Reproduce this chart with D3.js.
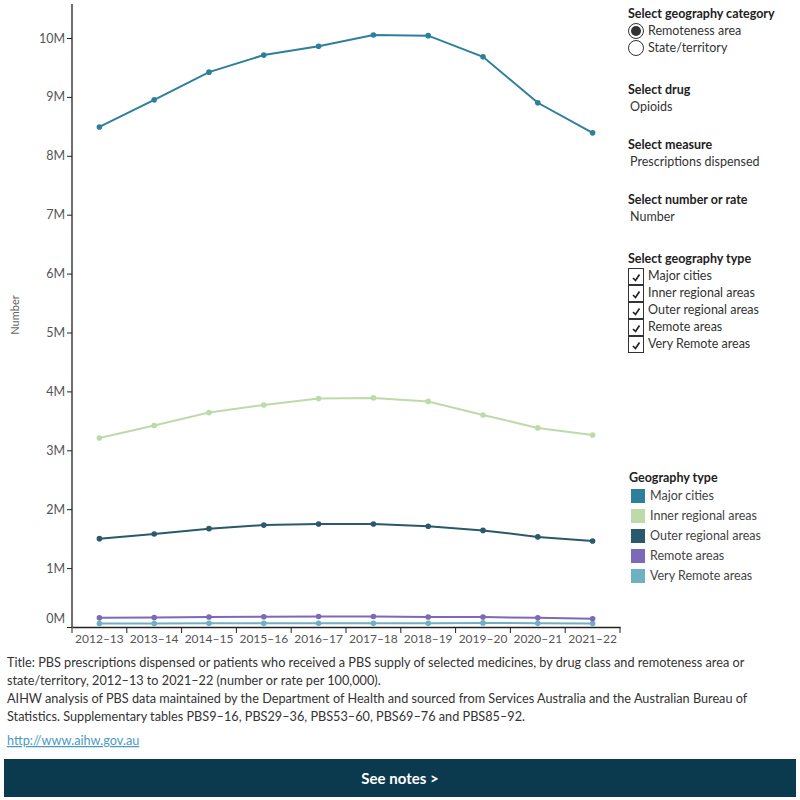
<!DOCTYPE html>
<html><head><meta charset="utf-8">
<script src="https://cdn.jsdelivr.net/npm/d3@7"></script>
<style>
body{margin:0;background:#fff;font-family:Lato,"Open Sans",sans-serif;}
svg{display:block}
</style></head>
<body><svg id="c" width="800" height="800"></svg>
<script>
const categories=["2012–13","2013–14","2014–15","2015–16","2016–17","2017–18","2018–19","2019–20","2020–21","2021–22"];
const seriesNames=["Major cities","Inner regional areas","Outer regional areas","Remote areas","Very Remote areas"];
const seriesColors=["#2e7f9b","#bcdba9","#29596a","#7c69b7","#6fb1c1"];
const majorCities=[8.49,8.95,9.42,9.71,9.86,10.05,10.04,9.68,8.90,8.39];
const innerRegional=[3.21,3.42,3.64,3.77,3.88,3.89,3.83,3.60,3.38,3.26];
const outerRegional=[1.50,1.58,1.67,1.73,1.75,1.75,1.71,1.64,1.53,1.46];
const remoteAreas=[0.155,0.16,0.17,0.175,0.178,0.178,0.17,0.17,0.155,0.14];
const veryRemote=[0.06,0.06,0.062,0.062,0.063,0.063,0.063,0.07,0.062,0.058];
const yTicks=[0,1,2,3,4,5,6,7,8,9,10];
const seriesValues=[majorCities,innerRegional,outerRegional,remoteAreas,veryRemote];

const svg=d3.select("#c");
const x=d3.scaleBand().domain(categories).range([72,620]);
const y=d3.scaleLinear().domain([0,10]).range([627,38]);

// y axis
const ya=svg.append("g").attr("transform","translate(72,0)")
 .call(d3.axisLeft(y).tickValues(yTicks).tickSize(5).tickFormat(d=>d+"M"));
ya.select(".domain").attr("d","M0,4V627").attr("stroke","#222").attr("stroke-width",1.3);
ya.selectAll(".tick line").attr("stroke","#222");
ya.selectAll(".tick text").attr("fill","#555").attr("font-size","12.5px").attr("font-family","Lato, sans-serif").attr("x",-7)
 .attr("dy",d=>d===0?"-0.35em":"0.32em");

// x axis
const xa=svg.append("g").attr("transform","translate(0,627)")
 .call(d3.axisBottom(x).tickSize(0).tickSizeOuter(0));
xa.select(".domain").attr("stroke","#222").attr("stroke-width",1.3);
xa.selectAll(".tick text").attr("fill","#555").attr("font-size","12px").attr("font-family","Lato, sans-serif").attr("dy","1.05em");
// boundary ticks
const bounds=categories.map(c=>x(c)).concat([x.range()[1]]);
svg.append("g").selectAll("line").data(bounds).join("line")
 .attr("x1",d=>d).attr("x2",d=>d).attr("y1",627).attr("y2",633).attr("stroke","#222");

svg.append("text").attr("transform","translate(19,315) rotate(-90)").attr("text-anchor","middle")
 .attr("fill","#666").attr("font-size","11px").attr("font-family","Lato, sans-serif").text("Number");

// lines (draw smaller series first)
const line=d3.line().x((d,i)=>x(categories[i])+x.bandwidth()/2).y(d=>y(d));
const order=[4,3,2,1,0];
order.forEach(k=>{
 const g=svg.append("g");
 g.append("path").datum(seriesValues[k]).attr("d",line).attr("fill","none")
  .attr("stroke",seriesColors[k]).attr("stroke-width",2);
 g.selectAll("circle").data(seriesValues[k]).join("circle")
  .attr("cx",(d,i)=>x(categories[i])+x.bandwidth()/2).attr("cy",d=>y(d)).attr("r",2.8).attr("fill",seriesColors[k]);
});

// right panel
const fTitle="Lato, sans-serif";
function t(xp,yp,s,opts={}){return svg.append("text").attr("x",xp).attr("y",yp).attr("font-family",fTitle)
 .attr("font-size",opts.size||"12.5px").attr("font-weight",opts.w||"normal").attr("fill",opts.c||"#333").text(s);}
t(628,18,"Select geography category",{w:"bold",c:"#222"});
svg.append("circle").attr("cx",636).attr("cy",31).attr("r",7.5).attr("fill","#fff").attr("stroke","#333");
svg.append("circle").attr("cx",636).attr("cy",31).attr("r",5).attr("fill","#333");
svg.append("circle").attr("cx",636).attr("cy",48).attr("r",7.5).attr("fill","#fff").attr("stroke","#333");
t(648,35,"Remoteness area");
t(648,52,"State/territory");
t(628,94,"Select drug",{w:"bold",c:"#222"});
t(630,111,"Opioids");
t(628,149,"Select measure",{w:"bold",c:"#222"});
t(630,166,"Prescriptions dispensed");
t(628,204,"Select number or rate",{w:"bold",c:"#222"});
t(630,221,"Number");
t(628,263,"Select geography type",{w:"bold",c:"#222"});
seriesNames.forEach((n,i)=>{
 const yy=268+i*17;
 svg.append("rect").attr("x",628.5).attr("y",yy+0.5).attr("width",15).attr("height",16).attr("fill","#fff").attr("stroke","#333");
 svg.append("path").attr("d",`M633,${yy+10} L635.5,${yy+12.5} L639.5,${yy+6.5}`).attr("fill","none").attr("stroke","#222").attr("stroke-width",1.7);
 t(648,yy+12,n);
});

// legend
t(629,482,"Geography type",{w:"bold",c:"#222"});
seriesNames.forEach((n,i)=>{
 const yy=489+i*20;
 svg.append("rect").attr("x",631).attr("y",yy).attr("width",14).attr("height",14).attr("fill",seriesColors[i]);
 t(650,yy+11,n,{c:"#444"});
});

// footer
const foot=["Title: PBS prescriptions dispensed or patients who received a PBS supply of selected medicines, by drug class and remoteness area or",
"state/territory, 2012–13 to 2021–22 (number or rate per 100,000).",
"AIHW analysis of PBS data maintained by the Department of Health and sourced from Services Australia and the Australian Bureau of",
"Statistics. Supplementary tables PBS9–16, PBS29–36, PBS53–60, PBS69–76 and PBS85–92."];
foot.forEach((s,i)=>t(7,667+i*18,s,{c:"#333",size:"12.7px"}));
t(7,745,"http://www.aihw.gov.au",{c:"#4a9bc1",size:"12.7px"}).attr("text-decoration","underline");
svg.append("rect").attr("x",4).attr("y",759).attr("width",792).attr("height",38).attr("fill","#0b3a4f");
svg.append("text").attr("x",400).attr("y",784).attr("text-anchor","middle").attr("fill","#fff")
 .attr("font-family",fTitle).attr("font-size","15px").attr("font-weight","bold").text("See notes >");
</script></body></html>
